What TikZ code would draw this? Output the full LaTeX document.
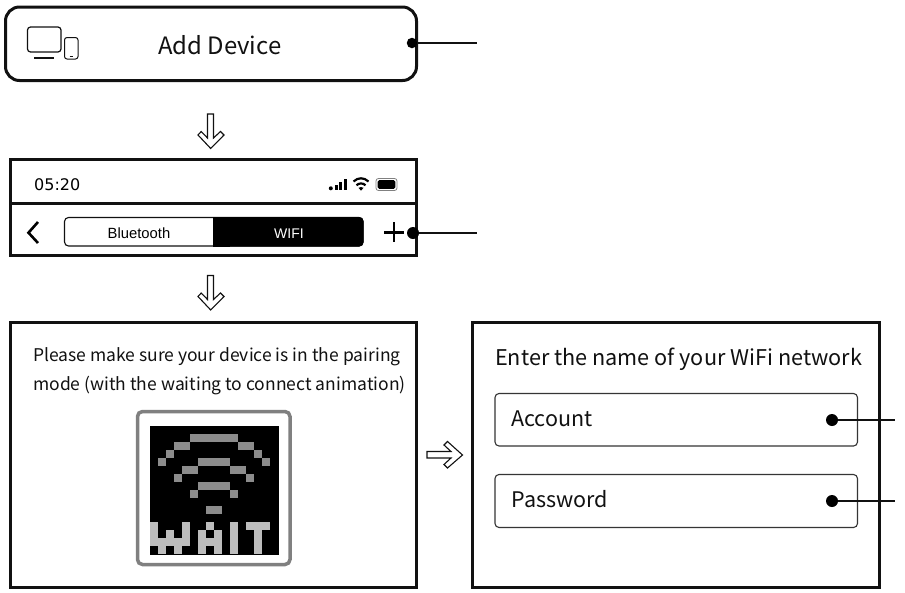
\documentclass[tikz,border=0pt]{standalone}
\usepackage{fontspec}
\setmainfont{Noto Sans CJK SC}
\newfontfamily\uifont{Liberation Sans}
\newfontfamily\timefont{DejaVu Sans}
\definecolor{inkc}{HTML}{111111}
\definecolor{pixg}{HTML}{8C8C8C}
\definecolor{pixl}{HTML}{BDBDBD}
\definecolor{framec}{HTML}{808080}
\tikzset{
  panel/.style={draw=inkc,line width=3pt,fill=white},
  field/.style={draw=inkc!85,line width=1.1pt,rounded corners=4pt},
  dotm/.style={circle,fill=black,inner sep=0pt,minimum size=#1},
  lead/.style={draw=inkc,line width=1.1pt},
  blockarrow/.style={draw=inkc,line width=1.1pt,fill=white,line join=miter},
  label/.style={inner sep=0pt,anchor=base west,text=inkc},
  icon/.style={draw=inkc,line width=1.2pt},
}
\newcommand{\pixrow}[3]{\foreach \c in {#2}{\fill[#3] ({150+8*\c},{426+8*#1}) rectangle +(8.05,8.05);}}
\begin{document}
\begin{tikzpicture}[x=1pt,y=-1pt]
\useasboundingbox (0,0) rectangle (905,592);
% top button
\draw[panel,rounded corners=14pt] (5.5,7) rectangle (416.5,80.5);
\draw[icon,rounded corners=3pt] (27.5,27) rectangle (61,52);
\draw[icon] (34,58) -- (54,58);
\draw[icon,line width=1pt,rounded corners=2.5pt] (64.5,37.5) rectangle (78,59);
\draw[icon,line width=.8pt] (69.5,56.2) -- (73,56.2);
\node[label,font=\fontsize{23.9}{28}\selectfont] (addt) at (158,54) {Add Device};
\node[dotm=10.5pt] (d1) at (412,43) {};
\coordinate (e1) at (477,43);
\draw[lead] (d1) -- (e1);
% arrow 1
\draw[blockarrow] (207.5,114) -- (213.5,114) -- (213.5,138) -- (220.5,131.5) -- (224,135) -- (210.7,148.5) -- (198,135) -- (201.2,131.5) -- (207.5,138) -- cycle;
% status panel
\draw[panel] (10.5,159.7) rectangle (416.5,255);
\draw[draw=inkc,line width=3pt] (10.5,203) -- (416.5,203);
\node[label,font=\timefont\fontsize{16}{18}\selectfont,text=black] (time) at (34,190.5) {05:20};
\fill[black] (330.8,188.3) circle (2);
\fill[black] (334.5,184.5) rectangle +(3.2,5.8);
\fill[black] (339.2,181.8) rectangle +(3.2,8.5);
\fill[black] (344.2,178.5) rectangle +(3.2,11.8);
\draw[black,line width=2.2pt] (353.5,181.5) .. controls (358,177.2) and (364,177.2) .. (368.5,181.5);
\draw[black,line width=2.2pt] (356.5,185.3) .. controls (359,182.8) and (363,182.8) .. (365.5,185.3);
\fill[black] (361,190.7) -- (358.5,187.8) .. controls (360,186.8) and (362,186.8) .. (363.5,187.8) -- cycle;
\draw[gray,line width=.8pt,rounded corners=2.5pt] (376,178.5) rectangle (397,190.5);
\fill[black,rounded corners=1.5pt] (377.7,180.2) rectangle (395.3,188.8);
\draw[black,line width=2.6pt] (38,222) -- (28.5,232.7) -- (38,243);
\draw[draw=inkc,line width=1.1pt,rounded corners=4pt,fill=white] (64.5,217.5) rectangle (363,246);
\fill[black,rounded corners=4pt] (213,217) rectangle (363.5,246.5);
\fill[black] (213,217) rectangle (230,246.5);
\node[anchor=base,inner sep=0pt,font=\uifont\fontsize{14.8}{16}\selectfont,text=black] (bt) at (139,238) {Bluetooth};
\node[anchor=base,inner sep=0pt,font=\uifont\fontsize{14}{16}\selectfont,text=white] (wf) at (289,238) {WIFI};
\draw[black,line width=2.4pt] (384,232.3) -- (404,232.3) (394,222) -- (394,242);
\node[dotm=12pt] (d2) at (413,233) {};
\coordinate (e2) at (477,233);
\draw[lead] (d2) -- (e2);
% arrow 2
\begin{scope}[shift={(0,161.5)}]
\draw[blockarrow] (207.5,114) -- (213.5,114) -- (213.5,138) -- (220.5,131.5) -- (224,135) -- (210.7,148.5) -- (198,135) -- (201.2,131.5) -- (207.5,138) -- cycle;
\end{scope}
% pairing panel
\draw[panel] (10.5,322.5) rectangle (416.5,587);
\node[label,font=\fontsize{17.5}{20}\selectfont] (p1) at (33,361) {Please make sure your device is in the pairing};
\node[label,font=\fontsize{17.5}{20}\selectfont] (p2) at (33,390) {mode (with the waiting to connect animation)};
\draw[draw=framec,line width=3.5pt,rounded corners=5pt] (137.5,411.5) rectangle (290,564.5);
\fill[black] (150,426) rectangle (278.5,555);
\pixrow{1}{5,...,10}{pixg}
\pixrow{2}{3,4,11,12}{pixg}
\pixrow{3}{2,13}{pixg}
\pixrow{4}{1,14,6,7,8,9}{pixg}
\pixrow{5}{4,5,10,11}{pixg}
\pixrow{6}{3,12}{pixg}
\pixrow{7}{6,7,8,9}{pixg}
\pixrow{8}{5,10}{pixg}
\pixrow{10}{7,8}{pixg}
\pixrow{12}{0,4,7,10,12,13,14}{pixl}
\pixrow{13}{0,2,4,6,8,10,13}{pixl}
\pixrow{14}{0,1,2,3,4,6,7,8,10,13}{pixl}
\pixrow{15}{1,3,6,8,10,13}{pixl}
% right arrow
\draw[blockarrow] (427,451.5) -- (451,451.5) -- (444,445) -- (447.5,441.5) -- (462.5,455) -- (447.5,468) -- (444,464.5) -- (451,458) -- (427,458) -- cycle;
% wifi panel
\draw[panel] (472.5,322.5) rectangle (879.5,587);
\node[label,font=\fontsize{21.65}{25}\selectfont] (w1) at (495,365.5) {Enter the name of your WiFi network};
\draw[field] (495,393.5) rectangle (857.5,446);
\draw[field] (495,474.5) rectangle (857.5,527.5);
\node[label,font=\fontsize{21.5}{25}\selectfont] (acc) at (511,426.5) {Account};
\node[label,font=\fontsize{21.5}{25}\selectfont] (pwd) at (511.5,507.5) {Password};
\node[dotm=12pt] (d3) at (832,420) {};
\coordinate (e3) at (895,420);
\draw[lead] (d3) -- (e3);
\node[dotm=12pt] (d4) at (832,501) {};
\coordinate (e4) at (895,501);
\draw[lead] (d4) -- (e4);
\end{tikzpicture}
\end{document}
